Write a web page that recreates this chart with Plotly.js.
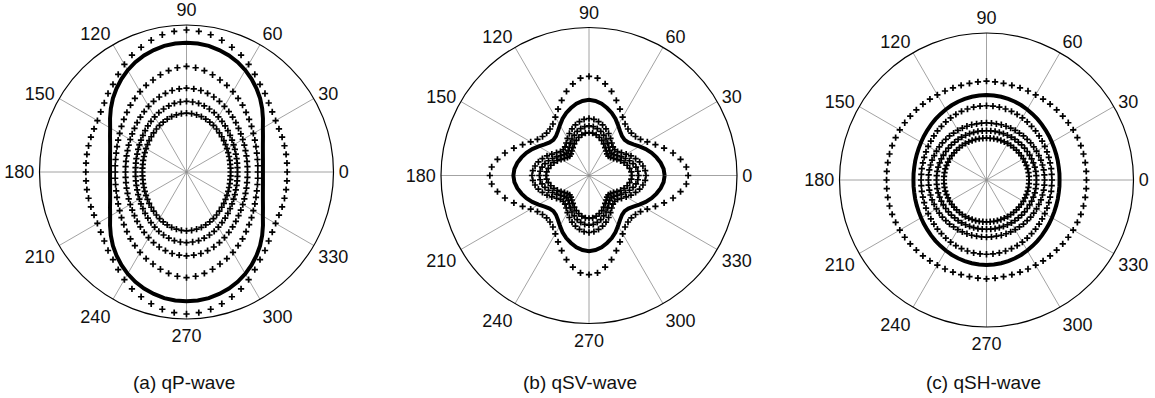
<!DOCTYPE html>
<html>
<head>
<meta charset="utf-8">
<script src="https://cdn.plot.ly/plotly-3.0.1.min.js"></script>
<style>
html,body{margin:0;padding:0;background:#fff;}
#chart{width:1155px;height:398px;}
</style>
</head>
<body>
<div id="chart"></div>
<script>
// Quadrant angles (deg); curves are symmetric about both axes
const quadAngles = [0,5,10,15,20,25,30,35,40,45,50,55,60,65,70,75,80,85,90];
const tickAngles = [0,30,60,90,120,150,180,210,240,270,300,330];
const tickLabels = ['0','30','60','90','120','150','180','210','240','270','300','330'];
const captions = ['(a) qP-wave','(b) qSV-wave','(c) qSH-wave'];

// (a) qP-wave
const aSolid = [0.520,0.522,0.528,0.538,0.553,0.574,0.600,0.635,0.672,0.708,0.741,0.772,0.800,0.824,0.844,0.859,0.871,0.878,0.880];
const aDot1  = [0.685,0.686,0.688,0.690,0.692,0.694,0.700,0.712,0.730,0.755,0.778,0.810,0.845,0.878,0.903,0.928,0.948,0.960,0.966];
const aDot2  = [0.485,0.487,0.490,0.495,0.503,0.513,0.525,0.540,0.556,0.573,0.593,0.612,0.632,0.650,0.666,0.685,0.700,0.712,0.718];
const aDot3  = [0.415,0.416,0.418,0.422,0.427,0.434,0.442,0.451,0.462,0.475,0.488,0.502,0.516,0.530,0.543,0.554,0.563,0.568,0.570];
const aDot4  = [0.347,0.348,0.350,0.353,0.357,0.363,0.370,0.378,0.387,0.398,0.409,0.421,0.433,0.445,0.456,0.466,0.474,0.478,0.480];
const aDot5  = [0.300,0.301,0.302,0.305,0.308,0.313,0.318,0.324,0.332,0.339,0.348,0.357,0.366,0.375,0.383,0.390,0.395,0.399,0.400];

// (b) qSV-wave
const bSolid = [0.511,0.506,0.492,0.472,0.450,0.423,0.393,0.366,0.347,0.340,0.347,0.366,0.393,0.423,0.450,0.472,0.492,0.506,0.511];
const bDot1  = [0.670,0.660,0.628,0.588,0.540,0.495,0.455,0.425,0.410,0.405,0.410,0.425,0.455,0.495,0.540,0.588,0.628,0.660,0.670];
const bDot2  = [0.385,0.381,0.370,0.354,0.335,0.313,0.290,0.268,0.252,0.246,0.252,0.268,0.290,0.313,0.335,0.354,0.370,0.381,0.385];
const bDot3  = [0.335,0.331,0.322,0.308,0.291,0.272,0.252,0.233,0.219,0.214,0.219,0.233,0.252,0.272,0.291,0.308,0.322,0.331,0.335];
const bDot4  = [0.290,0.287,0.279,0.267,0.252,0.236,0.218,0.202,0.190,0.185,0.190,0.202,0.218,0.236,0.252,0.267,0.279,0.287,0.290];

// (c) qSH-wave
const cSolid = [0.497,0.498,0.499,0.502,0.505,0.509,0.514,0.520,0.526,0.533,0.540,0.547,0.554,0.561,0.567,0.571,0.575,0.577,0.578];
const cDot1  = [0.680,0.681,0.682,0.683,0.683,0.682,0.681,0.679,0.677,0.675,0.673,0.671,0.669,0.668,0.667,0.667,0.668,0.670,0.672];
const cDot2  = [0.445,0.445,0.447,0.448,0.451,0.454,0.458,0.462,0.467,0.472,0.477,0.483,0.488,0.493,0.497,0.500,0.503,0.504,0.505];
const cDot3  = [0.395,0.395,0.395,0.394,0.394,0.393,0.393,0.392,0.392,0.391,0.391,0.390,0.390,0.389,0.389,0.389,0.388,0.388,0.388];
const cDot4  = [0.340,0.340,0.340,0.340,0.339,0.339,0.339,0.338,0.338,0.338,0.337,0.337,0.337,0.336,0.336,0.336,0.336,0.335,0.335];
const cDot5  = [0.290,0.290,0.290,0.290,0.289,0.289,0.289,0.288,0.288,0.288,0.287,0.287,0.287,0.286,0.286,0.286,0.286,0.285,0.285];

// mirror a quadrant (0..90) into a full 360 curve
function mirror(q, close){
  const r=[], t=[], n=quadAngles.length;
  for(let i=0;i<n;i++){ t.push(quadAngles[i]); r.push(q[i]); }
  for(let i=n-2;i>=0;i--){ t.push(180-quadAngles[i]); r.push(q[i]); }
  for(let i=1;i<n;i++){ t.push(180+quadAngles[i]); r.push(q[i]); }
  for(let i=n-2;i>=1;i--){ t.push(360-quadAngles[i]); r.push(q[i]); }
  if(close){ t.push(t[0]); r.push(r[0]); }
  return {r, t};
}

const panels = [
  {sp:'polar',  solid:aSolid, dots:[aDot1,aDot2,aDot3,aDot4,aDot5]},
  {sp:'polar2', solid:bSolid, dots:[bDot1,bDot2,bDot3,bDot4]},
  {sp:'polar3', solid:cSolid, dots:[cDot1,cDot2,cDot3,cDot4,cDot5]}
];

const traces = [];
panels.forEach(p=>{
  p.dots.forEach(d=>{
    const m = mirror(d,false);
    traces.push({type:'scatterpolar', subplot:p.sp, r:m.r, theta:m.t, mode:'markers',
      marker:{symbol:'cross-thin', size:4.5, color:'black', line:{color:'black', width:1.7}},
      hoverinfo:'skip'});
  });
  const s = mirror(p.solid,true);
  traces.push({type:'scatterpolar', subplot:p.sp, r:s.r, theta:s.t, mode:'lines',
    line:{color:'black', width:4}, hoverinfo:'skip'});
});

const FONT = "'Liberation Sans', Arial, sans-serif";

function polarCfg(x0,x1,yTop,yBot){
  return {
    domain:{x:[x0/1155, x1/1155], y:[1-yBot/398, 1-yTop/398]},
    bgcolor:'white',
    radialaxis:{range:[0,1], visible:false, showgrid:false, showline:false, showticklabels:false, ticks:''},
    angularaxis:{
      tickmode:'array', tickvals:tickAngles, ticktext:tickLabels,
      direction:'counterclockwise', rotation:0,
      showline:true, linecolor:'black', linewidth:1.2,
      showgrid:true, gridcolor:'#8c8c8c', gridwidth:0.8,
      ticks:'outside', ticklen:1, tickcolor:'rgba(0,0,0,0)',
      tickfont:{family:FONT, size:18, color:'#111'}
    }
  };
}

const captionX = [184, 580, 983];
const layout = {
  width:1155, height:398,
  margin:{l:0,r:0,t:0,b:0},
  paper_bgcolor:'white',
  showlegend:false,
  polar:  polarCfg(39.5, 333.5, 25, 319),
  polar2: polarCfg(441, 737, 27.5, 323.5),
  polar3: polarCfg(839.5, 1133.5, 33, 327),
  annotations: captions.map((c,i)=>({
    text:c, x:captionX[i]/1155, y:1-382/398, xref:'paper', yref:'paper',
    xanchor:'center', yanchor:'middle', showarrow:false,
    font:{family:FONT, size:19, color:'#111'}
  }))
};

Plotly.newPlot('chart', traces, layout, {displayModeBar:false, staticPlot:true});
</script>
</body>
</html>
